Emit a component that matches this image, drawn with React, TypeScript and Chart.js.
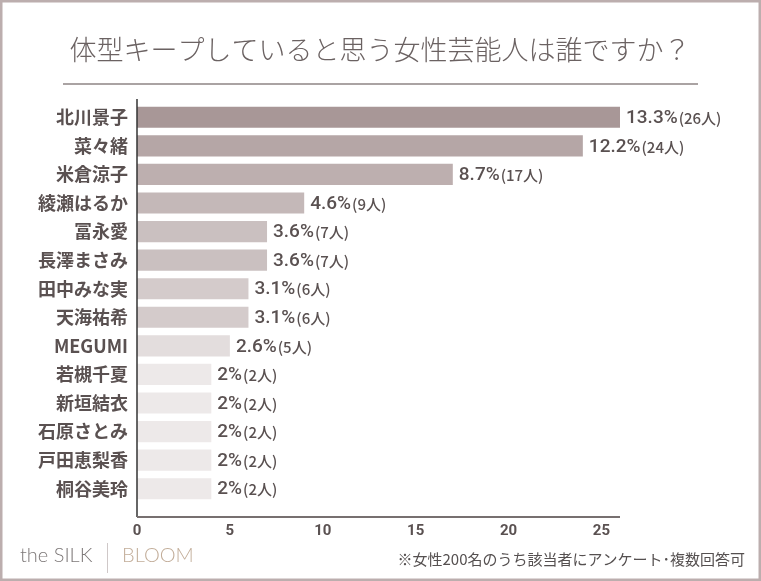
import React, { useEffect, useRef } from "react";
import { Chart, registerables } from "chart.js";

Chart.register(...registerables);

const categories = [
  "北川景子", "菜々緒", "米倉涼子", "綾瀬はるか", "冨永愛", "長澤まさみ", "田中みな実",
  "天海祐希", "MEGUMI", "若槻千夏", "新垣結衣", "石原さとみ", "戸田恵梨香", "桐谷美玲",
];
const values = [26, 24, 17, 9, 7, 7, 6, 6, 5, 4, 4, 4, 4, 4];
const percentLabels = [
  "13.3%", "12.2%", "8.7%", "4.6%", "3.6%", "3.6%", "3.1%", "3.1%", "2.6%",
  "2%", "2%", "2%", "2%", "2%",
];
const peopleLabels = [
  "(26人)", "(24人)", "(17人)", "(9人)", "(7人)", "(7人)", "(6人)", "(6人)", "(5人)",
  "(2人)", "(2人)", "(2人)", "(2人)", "(2人)",
];
const barColors = [
  "#a89797", "#b5a6a6", "#bdafaf", "#c4b8b8", "#cac0c0", "#cac0c0", "#d4cbcb",
  "#d4cbcb", "#e3dddd", "#ede9e9", "#ede9e9", "#ede9e9", "#ede9e9", "#ede9e9",
];
const xTicks = [0, 5, 10, 15, 20, 25];
const titleText = "体型キープしていると思う女性芸能人は誰ですか？";
const noteText = "※女性200名のうち該当者にアンケート･複数回答可";

const JP = "'Noto Sans CJK JP', 'Noto Sans', sans-serif";
const TEXT = "#5a5151";

const decorPlugin = {
  id: "decor",
  beforeDraw(chart: any) {
    const { ctx, width, height } = chart;
    ctx.save();
    ctx.fillStyle = "#ffffff";
    ctx.fillRect(0, 0, width, height);
    // frame
    ctx.strokeStyle = "#bcaeae";
    ctx.lineWidth = 2.5;
    ctx.strokeRect(1.25, 1.25, width - 2.5, height - 2.5);
    // title
    ctx.fillStyle = "#6b6262";
    ctx.font = `300 27px ${JP}`;
    ctx.textAlign = "center";
    ctx.textBaseline = "middle";
    ctx.fillText(titleText, 380, 50);
    // title rule
    ctx.strokeStyle = "#8e8585";
    ctx.lineWidth = 1.5;
    ctx.beginPath();
    ctx.moveTo(63, 84);
    ctx.lineTo(698, 84);
    ctx.stroke();
    // footer logo
    ctx.textAlign = "left";
    ctx.font = `300 20px Lato, 'Open Sans', sans-serif`;
    ctx.fillStyle = "#7d7878";
    ctx.fillText("the SILK", 20, 556);
    ctx.strokeStyle = "#cfc8c8";
    ctx.lineWidth = 1;
    ctx.beginPath();
    ctx.moveTo(107.5, 543);
    ctx.lineTo(107.5, 573);
    ctx.stroke();
    ctx.fillStyle = "#c2ad99";
    ctx.fillText("BLOOM", 122, 556);
    // note
    ctx.textAlign = "right";
    ctx.font = `15px ${JP}`;
    ctx.fillStyle = "#555050";
    ctx.fillText(noteText, 745, 559);
    ctx.restore();
  },
  afterDatasetsDraw(chart: any) {
    const { ctx } = chart;
    const x = chart.scales.x;
    ctx.save();
    // axes lines
    ctx.strokeStyle = "#333333";
    ctx.lineWidth = 1.5;
    ctx.beginPath();
    ctx.moveTo(x.left, chart.chartArea.top - 4);
    ctx.lineTo(x.left, chart.chartArea.bottom + 14);
    ctx.stroke();
    ctx.strokeStyle = "#777070";
    ctx.lineWidth = 2;
    ctx.beginPath();
    ctx.moveTo(x.left, chart.chartArea.bottom + 14);
    ctx.lineTo(x.right, chart.chartArea.bottom + 14);
    ctx.stroke();
    // data labels
    const meta = chart.getDatasetMeta(0);
    ctx.textBaseline = "middle";
    ctx.textAlign = "left";
    meta.data.forEach((bar: any, i: number) => {
      const bx = bar.x + 6;
      const by = bar.y;
      ctx.fillStyle = TEXT;
      ctx.font = `500 19px Roboto, sans-serif`;
      ctx.fillText(percentLabels[i], bx, by + 1);
      const w = ctx.measureText(percentLabels[i]).width;
      ctx.font = `500 15px ${JP}`;
      ctx.fillText(peopleLabels[i], bx + w + 1, by + 1);
    });
    ctx.restore();
  },
};

export default function App() {
  const ref = useRef<HTMLCanvasElement | null>(null);
  useEffect(() => {
    document.body.style.margin = "0";
    if (!ref.current) return;
    const chart = new Chart(ref.current, {
      type: "bar",
      data: {
        labels: categories,
        datasets: [
          {
            data: values,
            backgroundColor: barColors,
            borderWidth: 0,
            barPercentage: 0.74,
            categoryPercentage: 1,
          },
        ],
      },
      options: {
        indexAxis: "y",
        animation: false,
        responsive: false,
        maintainAspectRatio: false,
        layout: { padding: { top: 103, right: 141, left: 0, bottom: 0 } },
        plugins: {
          legend: { display: false },
          tooltip: { enabled: false },
          title: { display: false },
        },
        scales: {
          x: {
            min: 0,
            max: 26,
            grid: { display: false, drawTicks: false },
            border: { display: false },
            afterFit: (s: any) => {
              s.height = 78;
            },
            afterBuildTicks: (s: any) => {
              s.ticks = xTicks.map((v) => ({ value: v }));
            },
            ticks: {
              padding: 19,
              color: TEXT,
              font: { family: "Roboto, sans-serif", size: 15, weight: "bold" },
            },
          },
          y: {
            grid: { display: false, drawTicks: false },
            border: { display: false },
            afterFit: (s: any) => {
              s.width = 137;
            },
            ticks: {
              padding: 9,
              color: TEXT,
              font: { family: JP, size: 18, weight: "bold" },
            },
          },
        },
      },
      plugins: [decorPlugin],
    });
    return () => chart.destroy();
  }, []);
  return (
    <div style={{ width: 761, height: 581 }}>
      <canvas ref={ref} width={761} height={581} style={{ display: "block" }} />
    </div>
  );
}
